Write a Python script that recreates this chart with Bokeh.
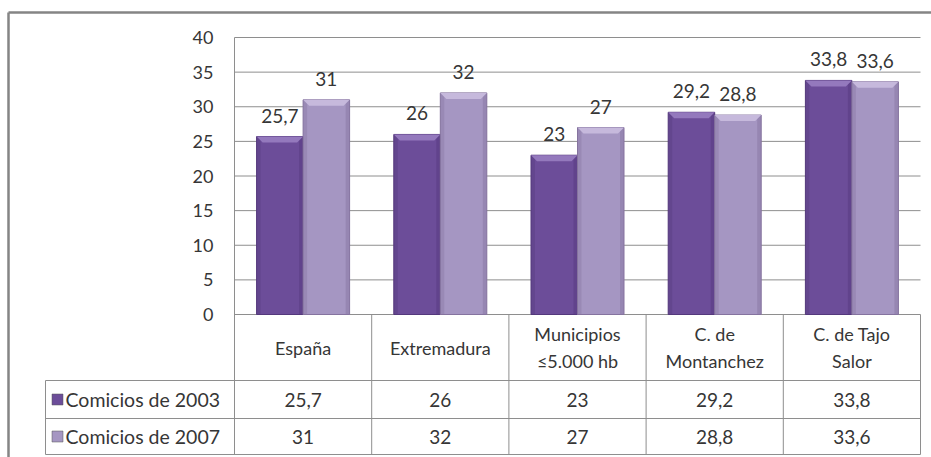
from bokeh.plotting import figure
from bokeh.models import ColumnDataSource, Range1d
from bokeh.core.properties import value
from bokeh.embed import file_html
from bokeh.resources import INLINE

# ---------------- data ----------------
categories = ["España", "Extremadura", "Municipios\n≤5.000 hb",
              "C. de\nMontanchez", "C. de Tajo\nSalor"]
series_names = ["Comicios de 2003", "Comicios de 2007"]
values_2003 = [25.7, 26, 23, 29.2, 33.8]
values_2007 = [31, 32, 27, 28.8, 33.6]
y_ticks = [0, 5, 10, 15, 20, 25, 30, 35, 40]

# ---------------- layout (page pixels) ----------------
W, H = 931, 457
PAGE = 0
PLOT_L, PLOT_R = 234, 920
PLOT_T, PLOT_B = 37, 314
Y_MAX = 40
ROW1_T, ROW2_T, ROW2_B = 380, 418, 454
LEG_L = 45
N = len(categories)
PXU = (PLOT_R - PLOT_L) / N
PYU = (PLOT_B - PLOT_T) / Y_MAX


def ux(px):
    return (px - PLOT_L) / PXU


def uy(py):
    return (PLOT_B - py) / PYU


FONT = value("Lato")
TXT = "#363636"
DARK = "#6c4d99"
DARK_TOP = "#9479bd"
DARK_EDGE = "#54387c"
LIGHT = "#a596c2"
LIGHT_TOP = "#c6b9dc"
LIGHT_EDGE = "#85739f"
GRID = "#8e8e8e"


def fmt(v):
    return f"{v:g}".replace(".", ",")


p = figure(width=W, height=H, output_backend="svg", toolbar_location=None,
           x_axis_type=None, y_axis_type=None,
           x_range=Range1d(ux(PAGE), ux(PAGE + W)),
           y_range=Range1d(uy(PAGE + H), uy(PAGE)),
           min_border=0, outline_line_color=None,
           background_fill_color="white", border_fill_color="white")
p.grid.visible = False

# outer frame (left and top edges visible)
p.segment(x0=[ux(8), ux(8)], x1=[ux(8), ux(PAGE + W + 10)],
          y0=[uy(12), uy(12)], y1=[uy(PAGE + H + 10), uy(12)],
          line_color="#858585", line_width=2.5)

# gridlines
p.segment(x0=[0] * len(y_ticks), x1=[N] * len(y_ticks), y0=y_ticks, y1=y_ticks,
          line_color=GRID, line_width=1)
# axis line / table verticals
p.segment(x0=[0], x1=[0], y0=[Y_MAX], y1=[uy(ROW2_B)], line_color=GRID, line_width=1)
p.segment(x0=list(range(1, N + 1)), x1=list(range(1, N + 1)),
          y0=[0] * N, y1=[uy(ROW2_B)] * N, line_color=GRID, line_width=1)
# table horizontals
for yy in (ROW1_T, ROW2_T, ROW2_B):
    p.segment(x0=[ux(LEG_L)], x1=[N], y0=[uy(yy)], y1=[uy(yy)],
              line_color=GRID, line_width=1)
p.segment(x0=[ux(LEG_L)], x1=[ux(LEG_L)], y0=[uy(ROW1_T)], y1=[uy(ROW2_B)],
          line_color=GRID, line_width=1)

# bars
bw = 46.5 / PXU
off = bw / 2
bev_h = 6 / PYU
bev_d = 6 / PXU
side = 4 / PXU
for vals, shift, col, top, edge in ((values_2003, -off, DARK, DARK_TOP, DARK_EDGE),
                                    (values_2007, off, LIGHT, LIGHT_TOP, LIGHT_EDGE)):
    xs = [i + 0.5 + shift for i in range(N)]
    src = ColumnDataSource(dict(x=xs, top=vals,
                                lbl=[fmt(v) for v in vals],
                                ly=[v + 21 / PYU for v in vals]))
    p.vbar(x="x", top="top", bottom=0, width=bw, source=src,
           fill_color=col, line_color=edge, line_width=1)
    # darker side shading
    p.vbar(x=[x - bw / 2 + side / 2 for x in xs], top=vals, bottom=0, width=side,
           fill_color=edge, fill_alpha=0.35, line_color=None)
    p.vbar(x=[x + bw / 2 - side / 2 for x in xs], top=vals, bottom=0, width=side,
           fill_color=edge, fill_alpha=0.45, line_color=None)
    # beveled top face
    pxs = [[x - bw / 2, x + bw / 2, x + bw / 2 - bev_d, x - bw / 2 + bev_d] for x in xs]
    pys = [[v, v, v - bev_h, v - bev_h] for v in vals]
    p.patches(xs=pxs, ys=pys, fill_color=top, line_color=None)
    p.text(x="x", y="ly", text="lbl", source=src, text_font=FONT,
           text_font_size="19px", text_color=TXT, text_align="center",
           text_baseline="alphabetic")

# y tick labels
p.text(x=[ux(213)] * len(y_ticks), y=y_ticks, text=[str(t) for t in y_ticks],
       text_font=FONT, text_font_size="18px", text_color=TXT,
       text_align="right", text_baseline="middle")

# category labels
p.text(x=[i + 0.5 for i in range(N)], y=[uy((PLOT_B + ROW1_T) / 2)] * N,
       text=categories, text_font=FONT, text_font_size="18px", text_color=TXT,
       text_align="center", text_baseline="middle", text_line_height=1.25)

# table values
for vals, (t, b) in ((values_2003, (ROW1_T, ROW2_T)), (values_2007, (ROW2_T, ROW2_B))):
    p.text(x=[i + 0.5 for i in range(N)], y=[uy((t + b) / 2)] * N,
           text=[fmt(v) for v in vals], text_font=FONT,
           text_font_size="19px", text_color=TXT, text_align="center",
           text_baseline="middle")

# legend keys in table
for name, col, (t, b) in ((series_names[0], DARK, (ROW1_T, ROW2_T)),
                          (series_names[1], LIGHT, (ROW2_T, ROW2_B))):
    yc = uy((t + b) / 2)
    p.scatter(x=[ux(57)], y=[yc], marker="square", size=11,
              fill_color=col, line_color="#555555", line_width=0.5)
    p.text(x=[ux(65)], y=[yc], text=[name], text_font=FONT,
           text_font_size="19.5px", text_color=TXT, text_align="left",
           text_baseline="middle")

open("out.html", "w").write(file_html(p, INLINE))
